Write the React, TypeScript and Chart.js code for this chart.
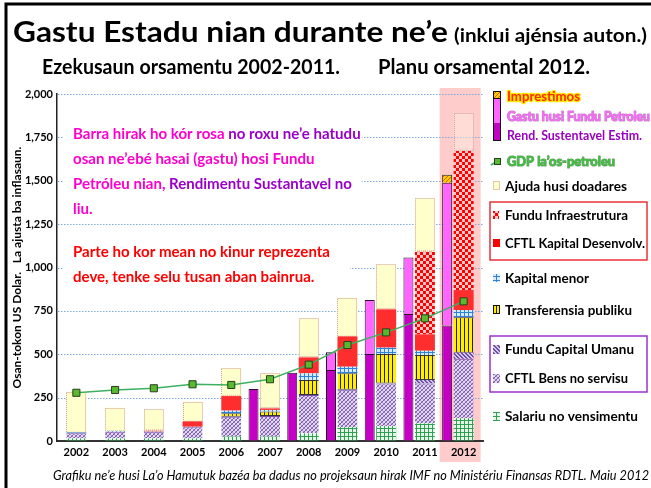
import React, { useEffect, useRef } from 'react';
import { Chart, registerables } from 'chart.js';
Chart.register(...registerables);

// ---------------- data ----------------
const years = ['2002', '2003', '2004', '2005', '2006', '2007', '2008', '2009', '2010', '2011', '2012'];
// purple (left) bar
const rendSustentavel = [null, null, null, null, null, 300, 394, 409, 501, 732, 665];
const gastuFunduPetroleu = [null, null, null, null, null, null, null, 102, 312, 325, 824];
const imprestimos = [null, null, null, null, null, null, null, null, null, null, 46];
// composition (right) bar, bottom to top
const salariu = [15, 15, 15, 15, 25, 25, 44, 80, 86, 102, 131];
const bensServisu = [29, 38, 38, 64, 115, 119, 221, 216, 246, 230, 343];
const funduCapitalUmanu = [null, null, null, null, null, null, null, null, null, 20, 35];
const transferensia = [null, null, null, null, 20, 26, 87, 94, 169, 144, 204];
const kapitalMenor = [5, 4, 2, 3, 15, 9, 38, 38, 37, 24, 42];
const cftlKapital = [null, null, 4, 31, 84, 9, 92, 175, 221, 95, 115];
const funduInfra = [null, null, null, null, null, null, null, null, null, 476, 801];
const ajudaDoadores = [235, 135, 124, 114, 160, 202, 225, 223, 259, 308, 218];
// line
const gdpNonOil = [278, 294, 304, 327, 323, 356, 440, 553, 626, 707, 805];
const yMax = 2000;
const yStep = 250;

const FONT = 'Lato, "Open Sans", sans-serif';

function tile(ctx: CanvasRenderingContext2D, w: number, h: number, draw: (t: CanvasRenderingContext2D) => void) {
  const c = document.createElement('canvas');
  c.width = w; c.height = h;
  const t = c.getContext('2d')!;
  draw(t);
  return ctx.createPattern(c, 'repeat')!;
}

function makePatterns(ctx: CanvasRenderingContext2D) {
  return {
    salariu: tile(ctx, 4, 4, (t) => {
      t.fillStyle = '#E6F7EA'; t.fillRect(0, 0, 4, 4);
      t.fillStyle = '#2FA052'; t.fillRect(0, 0, 4, 1); t.fillRect(0, 0, 1, 4);
    }),
    bens: tile(ctx, 4, 4, (t) => {
      t.fillStyle = '#E2D8EF'; t.fillRect(0, 0, 4, 4);
      for (let i = 0; i < 4; i++) {
        t.fillStyle = '#7A58B0'; t.fillRect(i, 3 - i, 1, 1);
        t.fillStyle = '#A890CC'; t.fillRect(i, i, 1, 1);
      }
    }),
    umanu: tile(ctx, 4, 4, (t) => {
      t.fillStyle = '#D4C8EA'; t.fillRect(0, 0, 4, 4);
      t.fillStyle = '#6E4EA8';
      for (let i = 0; i < 4; i++) { t.fillRect(i, i, 1, 1); t.fillRect((i + 1) % 4, i, 1, 1); }
    }),
    transf: tile(ctx, 4, 1, (t) => {
      t.fillStyle = '#FFEE00'; t.fillRect(0, 0, 4, 1);
      t.fillStyle = '#222'; t.fillRect(0, 0, 1, 1);
    }),
    kapMenor: tile(ctx, 4, 4, (t) => {
      t.fillStyle = '#D6EAFF'; t.fillRect(0, 0, 4, 4);
      t.fillStyle = '#2E82D8'; t.fillRect(0, 0, 4, 1); t.fillRect(0, 0, 1, 4);
    }),
    infra: tile(ctx, 6, 6, (t) => {
      t.fillStyle = '#FFC8C8'; t.fillRect(0, 0, 6, 6);
      t.fillStyle = '#FF0000'; t.fillRect(0, 0, 3, 3); t.fillRect(3, 3, 3, 3);
    }),
    impr: tile(ctx, 4, 4, (t) => {
      t.fillStyle = '#FFCC00'; t.fillRect(0, 0, 4, 4);
      t.fillStyle = '#D06000';
      for (let i = 0; i < 4; i++) { t.fillRect(i, 3 - i, 1, 1); }
    }),
  };
}

type TOpt = { size: number; weight?: string; italic?: boolean; color: string; w?: number; sx?: number; stroke?: string; strokeW?: number };
function txt(ctx: CanvasRenderingContext2D, s: string, x: number, y: number, o: TOpt) {
  ctx.save();
  ctx.font = `${o.italic ? 'italic ' : ''}${o.weight || 'bold'} ${o.size}px ${FONT}`;
  const m = ctx.measureText(s).width;
  const sx = o.w ? o.w / m : (o.sx || 1);
  ctx.translate(x, y);
  ctx.scale(sx, 1);
  ctx.textAlign = 'left';
  ctx.textBaseline = 'alphabetic';
  if (o.stroke) {
    ctx.lineJoin = 'round';
    ctx.lineWidth = o.strokeW || 2;
    ctx.strokeStyle = o.stroke;
    ctx.strokeText(s, 0, 0);
  }
  ctx.fillStyle = o.color;
  ctx.fillText(s, 0, 0);
  ctx.restore();
  return m * sx;
}
function measure(ctx: CanvasRenderingContext2D, s: string, size: number, weight = 'bold') {
  ctx.save();
  ctx.font = `${weight} ${size}px ${FONT}`;
  const m = ctx.measureText(s).width;
  ctx.restore();
  return m;
}

export default function App() {
  const ref = useRef<HTMLCanvasElement>(null);
  useEffect(() => {
    document.body.style.margin = '0';
    const canvas = ref.current!;
    const ctx0 = canvas.getContext('2d')!;
    const P = makePatterns(ctx0);

    const PINK = '#FF00CC';
    const PURP = '#9A00C8';

    const barP = { type: 'bar' as const, stack: 'p', categoryPercentage: 1.276, barPercentage: 1, maxBarThickness: 10, order: 1 };
    const barC = { type: 'bar' as const, stack: 'c', categoryPercentage: 1.276, barPercentage: 1.3, maxBarThickness: 20, order: 1, borderWidth: 0 };

    const datasets: any[] = [
      { ...barP, label: 'Rend. Sustentavel Estim.', data: rendSustentavel, backgroundColor: '#C400C4', borderColor: '#2A102A', borderWidth: 1 },
      { ...barP, label: 'Gastu husi Fundu Petroleu', data: gastuFunduPetroleu, backgroundColor: '#FF66FF', borderColor: '#2A102A', borderWidth: 1 },
      { ...barP, label: 'Imprestimos', data: imprestimos, backgroundColor: P.impr, borderColor: '#222', borderWidth: 1 },
      { ...barC, label: 'Salariu no vensimentu', data: salariu, backgroundColor: P.salariu },
      { ...barC, label: 'CFTL Bens no servisu', data: bensServisu, backgroundColor: P.bens, borderColor: '#7A4AB0', borderWidth: { top: 1, bottom: 0, left: 0, right: 0 }, borderSkipped: false },
      { ...barC, label: 'Fundu Capital Umanu', data: funduCapitalUmanu, backgroundColor: P.umanu },
      { ...barC, label: 'Transferensia publiku', data: transferensia, backgroundColor: P.transf, borderColor: '#333', borderWidth: { top: 1, bottom: 1, left: 0, right: 0 }, borderSkipped: false },
      { ...barC, label: 'Kapital menor', data: kapitalMenor, backgroundColor: P.kapMenor },
      { ...barC, label: 'CFTL Kapital Desenvolv.', data: cftlKapital, backgroundColor: '#FF2E2E' },
      { ...barC, label: 'Fundu Infraestrutura', data: funduInfra, backgroundColor: P.infra },
      { ...barC, label: 'Ajuda husi doadares', data: ajudaDoadores, backgroundColor: years.map((_, i) => (i === years.length - 1 ? 'rgba(255,240,225,0.45)' : '#FFFFCC')) },
      { type: 'bar', stack: 'z', categoryPercentage: 1.276, barPercentage: 1, label: '', data: years.map(() => null), order: 1 },
      {
        type: 'line', label: 'GDP la’os-petroleu', data: gdpNonOil, stack: 'gdp', order: 0,
        borderColor: '#3DB060', borderWidth: 1.5, pointStyle: 'rect', pointRadius: 5,
        pointBackgroundColor: '#58B82E', pointBorderColor: '#263F1E', pointBorderWidth: 1, tension: 0,
      },
    ];
    const AJUDA_INDEX = 10;

    const decor = {
      id: 'decor',
      beforeDraw(chart: any) {
        const ctx = chart.ctx as CanvasRenderingContext2D;
        const cx = chart.scales.x.getPixelForValue(years.length - 1);
        ctx.save();
        ctx.fillStyle = '#FFCCCC';
        ctx.fillRect(cx - 24, 88, 41, 374);
        ctx.restore();
      },
      beforeDatasetsDraw(chart: any) {
        // dotted horizontal grid lines at the y scale's ticks
        const ctx = chart.ctx as CanvasRenderingContext2D;
        const ys = chart.scales.y;
        const { left, right } = chart.chartArea;
        ctx.save();
        ctx.strokeStyle = '#7FA8DC';
        ctx.lineWidth = 1;
        ctx.setLineDash([1.5, 1.5]);
        ys.ticks.forEach((t: any) => {
          if (t.value === 0) return;
          const y = Math.round(ys.getPixelForValue(t.value)) + 0.5;
          ctx.beginPath();
          ctx.moveTo(left + 1, y);
          ctx.lineTo(right, y);
          ctx.stroke();
        });
        ctx.restore();
      },
      afterDatasetDraw(chart: any, args: any) {
        if (args.index !== AJUDA_INDEX) return;
        const ctx = chart.ctx as CanvasRenderingContext2D;
        ctx.save();
        ctx.strokeStyle = '#D09A9A';
        ctx.lineWidth = 1;
        ctx.setLineDash([1, 1]);
        args.meta.data.forEach((el: any, i: number) => {
          if (ajudaDoadores[i] == null) return;
          const { x, y, base, width } = el.getProps(['x', 'y', 'base', 'width'], true);
          ctx.strokeRect(Math.round(x - width / 2) + 0.5, Math.round(y) + 0.5, width - 1, base - y - 1);
        });
        ctx.restore();
      },
      afterDraw(chart: any) {
        const ctx = chart.ctx as CanvasRenderingContext2D;
        ctx.save();
        // frame
        ctx.strokeStyle = '#000';
        ctx.lineWidth = 3;
        ctx.beginPath();
        ctx.moveTo(6, 488); ctx.lineTo(6, 4); ctx.lineTo(651, 4);
        ctx.stroke();

        // titles
        txt(ctx, 'Gastu Estadu nian durante ne’e', 13, 42, { size: 28, color: '#000', w: 435 });
        txt(ctx, '(inklui ajénsia auton.)', 454, 42, { size: 19, color: '#000', w: 193 });
        txt(ctx, 'Ezekusaun orsamentu 2002-2011.', 42, 74, { size: 21, color: '#000', w: 298 });
        txt(ctx, 'Planu orsamental 2012.', 378, 74, { size: 21, color: '#000', w: 212 });
        txt(ctx, 'Grafiku ne’e husi La’o Hamutuk bazéa ba dadus no projeksaun hirak IMF no Ministériu Finansas RDTL. Maiu 2012', 53, 480, { size: 14, weight: 'normal', italic: true, color: '#000', w: 596 });

        // annotation boxes
        ctx.fillStyle = '#FFFFFF';
        ctx.fillRect(64, 112, 298, 105);
        ctx.fillRect(64, 238, 286, 52);
        const AS = 16;
        const asx = 257 / measure(ctx, 'Parte ho kor mean no kinur reprezenta', AS);
        const line = (parts: [string, string][], y: number) => {
          let x = 73;
          parts.forEach(([s, c]) => { x += txt(ctx, s, x, y, { size: AS, color: c, sx: asx }); });
        };
        line([['Barra hirak ho kór rosa ', PINK], ['no roxu ne’e hatudu', PURP]], 139);
        line([['osan ne’ebé hasai (gastu) hosi Fundu', PINK]], 164);
        line([['Petróleu nian, ', PINK], ['Rendimentu Sustantavel no', PURP]], 189);
        line([['liu.', PINK]], 214);
        line([['Parte ho kor mean no kinur reprezenta', '#FF0000']], 257);
        line([['deve, tenke selu tusan aban bainrua.', '#FF0000']], 282);

        // legend
        const LS = 13;
        const lt = (s: string, cy: number, w: number, o: Partial<TOpt> = {}, x = 505) =>
          txt(ctx, s, x, cy + 4.5, { size: LS, color: '#000', w, ...o });
        const SX = 493;
        // column swatch
        ctx.fillStyle = P.impr; ctx.fillRect(SX, 91, 8, 7);
        ctx.fillStyle = '#FF66FF'; ctx.fillRect(SX, 98, 8, 25);
        ctx.fillStyle = '#C400C4'; ctx.fillRect(SX, 123, 8, 18);
        ctx.strokeStyle = '#111'; ctx.lineWidth = 1;
        ctx.strokeRect(SX + 0.5, 91.5, 7, 49);
        ctx.beginPath(); ctx.moveTo(SX, 98.5); ctx.lineTo(SX + 8, 98.5); ctx.stroke();
        lt('Imprestimos', 96, 73, { color: '#FF2A00', stroke: '#FFE800', strokeW: 2.5 }, 507);
        lt('Gastu husi Fundu Petroleu', 116, 143, { color: '#FF66FF', stroke: 'rgba(130,30,130,0.55)', strokeW: 1.2 }, 507);
        lt('Rend. Sustentavel Estim.', 135, 135, { color: '#9A00C0' }, 507);
        // GDP
        ctx.strokeStyle = '#3DB060'; ctx.lineWidth = 1.5;
        ctx.beginPath(); ctx.moveTo(491, 165); ctx.lineTo(501, 159); ctx.stroke();
        ctx.fillStyle = '#58B82E'; ctx.fillRect(494.5, 158.5, 6, 6);
        ctx.strokeStyle = '#263F1E'; ctx.lineWidth = 1; ctx.strokeRect(494.5, 158.5, 6, 6);
        lt('GDP la’os-petroleu', 161, 108, { color: '#3CC23C', stroke: 'rgba(20,90,20,0.6)', strokeW: 1.2 }, 507);
        // Ajuda
        ctx.fillStyle = '#FFFFCC'; ctx.fillRect(493, 181, 7, 9);
        ctx.save(); ctx.setLineDash([1, 1]); ctx.strokeStyle = '#C89090';
        ctx.strokeRect(493.5, 181.5, 6, 8); ctx.restore();
        lt('Ajuda husi doadares', 186, 122);
        // red box
        ctx.strokeStyle = '#E8333A'; ctx.lineWidth = 1.5;
        ctx.strokeRect(490, 202, 157, 58);
        ctx.fillStyle = P.infra; ctx.fillRect(493, 211, 6, 8);
        lt('Fundu Infraestrutura', 215, 123);
        ctx.fillStyle = '#FF0000'; ctx.fillRect(493, 239, 7, 8);
        lt('CFTL Kapital Desenvolv.', 243, 140);
        ctx.fillStyle = P.kapMenor; ctx.fillRect(493, 274, 7, 8);
        lt('Kapital menor', 278, 84);
        ctx.fillStyle = P.transf; ctx.fillRect(493, 305, 7, 9);
        ctx.strokeStyle = '#111'; ctx.lineWidth = 1; ctx.strokeRect(493.5, 305.5, 6, 8);
        lt('Transferensia publiku', 310, 127);
        // purple box
        ctx.strokeStyle = '#9B30D0'; ctx.lineWidth = 1.5;
        ctx.strokeRect(490, 336, 157, 56);
        ctx.fillStyle = P.umanu; ctx.fillRect(493, 345, 7, 9);
        lt('Fundu Capital Umanu', 349, 129);
        ctx.fillStyle = P.bens; ctx.fillRect(493, 374, 7, 9);
        lt('CFTL Bens no servisu', 378, 123);
        ctx.fillStyle = P.salariu; ctx.fillRect(493, 412, 7, 9);
        lt('Salariu no vensimentu', 416, 133);
        ctx.restore();
      },
    };

    Chart.defaults.font.family = FONT;
    const chart = new Chart(canvas, {
      type: 'bar',
      data: { labels: years, datasets },
      options: {
        responsive: false,
        animation: false,
        devicePixelRatio: 1,
        layout: { padding: { left: 8, right: 168, top: 94, bottom: 0 } },
        plugins: { legend: { display: false }, tooltip: { enabled: false }, title: { display: false } },
        scales: {
          x: {
            stacked: true,
            grid: { display: false, drawTicks: false },
            border: { display: true, color: '#333', width: 2 },
            ticks: { color: '#000', font: { size: 11, weight: 'bold' }, padding: 5 },
            afterFit: (s: any) => { s.height = 47; },
          },
          y: {
            stacked: true,
            min: 0,
            max: yMax,
            ticks: {
              stepSize: yStep,
              color: '#000',
              padding: 4,
              font: { size: 11, weight: 'bold' },
              callback: (v: any) => Number(v).toLocaleString('en-US'),
            },
            grid: { display: true, drawOnChartArea: false, drawTicks: false },
            border: { display: true, color: '#222', width: 1.5 },
            title: {
              display: true,
              text: 'Osan-tokon US Dolar.   La ajusta ba inflasaun.',
              color: '#000',
              font: { size: 12, weight: 'bold' },
              padding: { top: 2, bottom: 2 },
            },
            afterFit: (s: any) => { s.width = 49; },
          },
        },
      },
      plugins: [decor],
    } as any);
    return () => chart.destroy();
  }, []);
  return <canvas ref={ref} width={651} height={488} style={{ display: 'block' }} />;
}
